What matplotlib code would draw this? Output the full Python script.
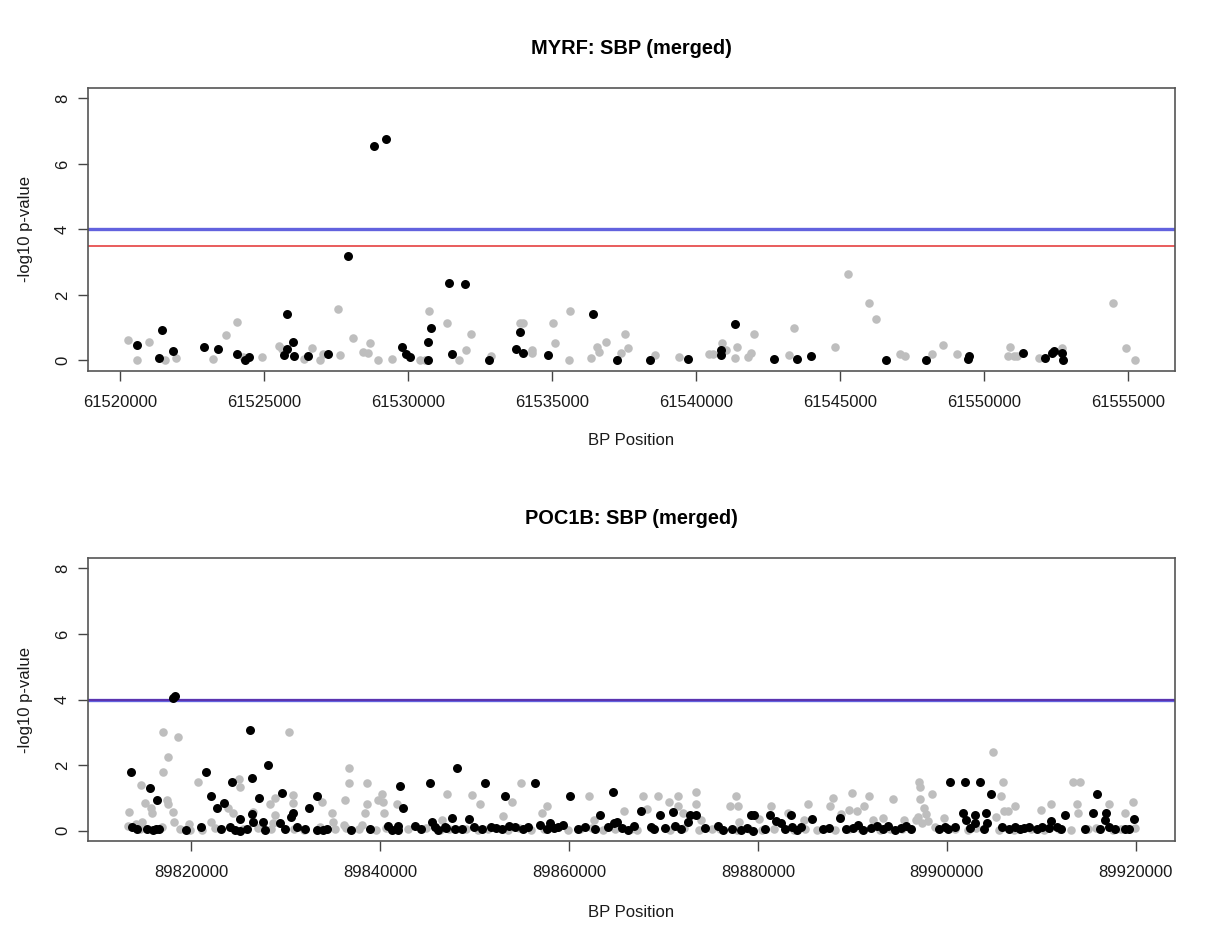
#!/usr/bin/env python3
"""Regional association plots (-log10 p) for MYRF and POC1B, SBP merged."""

import matplotlib

matplotlib.use("Agg")
import matplotlib.pyplot as plt
import numpy as np

plt.rcParams["font.family"] = ["Liberation Sans", "DejaVu Sans"]

# MYRF region: positions (bp) and -log10 p-values, split by colour group
MYRF_BLACK_POS = [
    61520590, 61521460, 61521360, 61521850, 61522920, 61523410, 61524070, 61524320,
    61524460, 61525680, 61525780, 61525790, 61526020, 61526040, 61526510, 61527210,
    61527900, 61528810, 61529230, 61529780, 61529920, 61530060, 61530690, 61530790,
    61530680, 61531420, 61531530, 61531980, 61532810, 61533750, 61533890, 61534000,
    61534870, 61536440, 61537240, 61538390, 61539740, 61540860, 61540870, 61541340,
    61542700, 61543500, 61543990, 61546600, 61548000, 61549460, 61549470, 61551370,
    61552140, 61552380, 61552420, 61552730, 61552740,
]
MYRF_BLACK_P = [
    0.46, 0.92, 0.08, 0.30, 0.40, 0.36, 0.20, 0.00,
    0.10, 0.18, 1.42, 0.36, 0.58, 0.13, 0.15, 0.20,
    3.20, 6.56, 6.75, 0.40, 0.20, 0.10, 0.58, 0.98,
    0.00, 2.38, 0.20, 2.35, 0.00, 0.36, 0.88, 0.22,
    0.18, 1.42, 0.00, 0.00, 0.04, 0.33, 0.18, 1.10,
    0.04, 0.04, 0.13, 0.00, 0.00, 0.04, 0.13, 0.22,
    0.08, 0.22, 0.28, 0.22, 0.03,
]
MYRF_GREY_POS = [
    61520280, 61520600, 61521010, 61521570, 61521950, 61523240, 61523690, 61524070,
    61524280, 61524940, 61525500, 61525610, 61526370, 61526650, 61526930, 61527030,
    61527560, 61527630, 61528080, 61528430, 61528600, 61528670, 61528950, 61529440,
    61530410, 61530590, 61530720, 61531350, 61531770, 61532010, 61532190, 61532880,
    61533890, 61534000, 61534310, 61534320, 61535040, 61535110, 61535630, 61535600,
    61536370, 61536570, 61536640, 61536890, 61537380, 61537550, 61537650, 61538590,
    61539400, 61540440, 61540580, 61540890, 61541030, 61541350, 61541410, 61541800,
    61541900, 61542010, 61543220, 61543400, 61544830, 61545280, 61546010, 61546250,
    61547090, 61547260, 61548200, 61548590, 61549080, 61550850, 61550920, 61551060,
    61551160, 61551930, 61552700, 61554470, 61554920, 61555240,
]
MYRF_GREY_P = [
    0.64, 0.00, 0.55, 0.00, 0.08, 0.06, 0.77, 1.18,
    0.12, 0.10, 0.45, 0.36, 0.06, 0.37, 0.00, 0.19,
    1.58, 0.18, 0.70, 0.25, 0.22, 0.52, 0.00, 0.06,
    0.00, 0.00, 1.50, 1.13, 0.00, 0.33, 0.80, 0.15,
    1.13, 1.13, 0.33, 0.22, 1.13, 0.52, 1.50, 0.00,
    0.08, 0.40, 0.25, 0.55, 0.22, 0.80, 0.37, 0.18,
    0.10, 0.19, 0.19, 0.52, 0.33, 0.08, 0.40, 0.12,
    0.22, 0.80, 0.18, 1.00, 0.40, 2.65, 1.75, 1.27,
    0.20, 0.13, 0.20, 0.48, 0.20, 0.15, 0.40, 0.15,
    0.15, 0.08, 0.37, 1.75, 0.37, 0.00,
]

# POC1B region
POC1B_BLACK_POS = [
    89813630, 89815650, 89816390, 89813650, 89815330, 89816280, 89818090, 89818300,
    89821490, 89822120, 89822660, 89823400, 89824250, 89825100, 89826160, 89826370,
    89827120, 89826400, 89826480, 89827540, 89828070, 89829350, 89829560, 89830510,
    89830730, 89831150, 89832430, 89833280, 89833300, 89833910, 89820960, 89824040,
    89825150, 89840820, 89841880, 89841900, 89842090, 89842410, 89843680, 89845280,
    89845490, 89845810, 89846870, 89847610, 89848140, 89847930, 89849420, 89851120,
    89853240, 89853670, 89856430, 89856960, 89858020, 89858870, 89859400, 89860040,
    89863220, 89864070, 89864600, 89864700, 89865030, 89866830, 89867580, 89868640,
    89869600, 89870980, 89871190, 89872570, 89872780, 89873420, 89875760, 89878200,
    89879260, 89879580, 89879480, 89881280, 89881910, 89882450, 89883510, 89883550,
    89884570, 89885740, 89888710, 89890620, 89892640, 89893810, 89895720, 89899760,
    89900820, 89900290, 89901880, 89903470, 89904640, 89901670, 89902940, 89904110,
    89901990, 89902960, 89904220, 89905810, 89907190, 89908680, 89910060, 89911010,
    89912500, 89915470, 89915900, 89916850, 89916750, 89917810, 89918870, 89919830,
    # dense run of near-zero markers
    89814200, 89815900, 89816600, 89819400, 89823100, 89824600, 89825900, 89827800,
    89829900, 89832000, 89834400, 89836900, 89838900, 89841200, 89844300, 89846100,
    89847000, 89848600, 89849900, 89850800, 89851700, 89852300, 89852900, 89854300,
    89855100, 89855600, 89857700, 89858400, 89860900, 89861700, 89862700, 89865600,
    89866200, 89869000, 89870200, 89871800, 89874400, 89876300, 89877300, 89878800,
    89880700, 89882900, 89884100, 89886900, 89887500, 89889300, 89890100, 89891100,
    89892000, 89893200, 89894500, 89895100, 89896200, 89899200, 89900100, 89902500,
    89903900, 89906600, 89907800, 89908200, 89909500, 89910800, 89911700, 89912100,
    89914600, 89916200, 89917200, 89919300,
]
POC1B_BLACK_P = [
    1.80, 1.31, 0.92, 0.10, 0.06, 0.06, 4.05, 4.10,
    1.80, 1.04, 0.70, 0.85, 1.47, 0.34, 3.08, 1.59,
    1.00, 0.49, 0.25, 0.25, 2.00, 0.22, 1.16, 0.40,
    0.52, 0.10, 0.70, 1.04, 0.03, 0.03, 0.10, 0.10,
    0.00, 0.15, 0.15, 0.03, 1.37, 0.70, 0.15, 1.44,
    0.25, 0.12, 0.12, 0.37, 1.92, 0.06, 0.34, 1.44,
    1.04, 0.15, 1.44, 0.18, 0.22, 0.12, 0.18, 1.04,
    0.46, 0.10, 1.19, 0.22, 0.25, 0.15, 0.61, 0.10,
    0.46, 0.58, 0.15, 0.25, 0.46, 0.46, 0.15, 0.03,
    0.46, 0.46, 0.00, 0.46, 0.28, 0.22, 0.46, 0.12,
    0.10, 0.34, 0.37, 0.18, 0.15, 0.15, 0.15, 0.10,
    0.10, 1.47, 1.47, 1.47, 1.13, 0.52, 0.46, 0.52,
    0.31, 0.22, 0.22, 0.10, 0.10, 0.12, 0.12, 0.28,
    0.46, 0.55, 1.13, 0.52, 0.31, 0.06, 0.06, 0.34,
    0.04, 0.02, 0.05, 0.03, 0.05, 0.02, 0.04, 0.03,
    0.05, 0.04, 0.06, 0.03, 0.05, 0.02, 0.05, 0.03,
    0.08, 0.05, 0.10, 0.06, 0.12, 0.08, 0.05, 0.10,
    0.06, 0.12, 0.04, 0.09, 0.06, 0.10, 0.05, 0.08,
    0.03, 0.05, 0.08, 0.04, 0.07, 0.03, 0.05, 0.09,
    0.05, 0.06, 0.03, 0.05, 0.08, 0.04, 0.07, 0.03,
    0.09, 0.06, 0.03, 0.08, 0.05, 0.04, 0.06, 0.09,
    0.05, 0.06, 0.04, 0.08, 0.05, 0.07, 0.10, 0.04,
    0.06, 0.05, 0.10, 0.05,
]
POC1B_GREY_POS = [
    89813420, 89814690, 89815120, 89815860, 89815750, 89817030, 89817560, 89817020,
    89817450, 89817560, 89818090, 89818200, 89818620, 89814160, 89814800, 89819790,
    89820640, 89822120, 89823820, 89824350, 89824990, 89825100, 89826480, 89828280,
    89828810, 89828820, 89828600, 89830300, 89830730, 89830740, 89833810, 89834870,
    89834970, 89836250, 89836670, 89836680, 89836140, 89838050, 89838590, 89838600,
    89838380, 89839750, 89840180, 89840280, 89840390, 89841770, 89847080, 89846550,
    89849740, 89850590, 89853030, 89853980, 89854940, 89857170, 89857700, 89862060,
    89862590, 89865770, 89867790, 89868220, 89869380, 89870550, 89871510, 89871520,
    89872040, 89873420, 89873430, 89873950, 89877030, 89877670, 89877880, 89877990,
    89880110, 89881380, 89883190, 89884890, 89885310, 89887970, 89887650, 89888820,
    89889990, 89889670, 89890520, 89891260, 89891790, 89892220, 89893280, 89894340,
    89895510, 89896780, 89896990, 89897100, 89897110, 89897210, 89897630, 89897840,
    89898380, 89899650, 89904850, 89905920, 89905700, 89906020, 89906450, 89905170,
    89907190, 89909950, 89911010, 89913350, 89914090, 89913780, 89913880, 89917170,
    89918870, 89919720,
    # near-zero markers
    89813300, 89814500, 89816900, 89818800, 89819800, 89821100, 89822500, 89825500,
    89827000, 89828400, 89830900, 89831900, 89833600, 89835200, 89836400, 89837700,
    89839500, 89840600, 89842900, 89844800, 89846300, 89847300, 89849100, 89850300,
    89851400, 89853500, 89854700, 89856000, 89857300, 89859900, 89861200, 89862400,
    89863600, 89864900, 89866500, 89867200, 89868900, 89870700, 89872200, 89873700,
    89875100, 89876000, 89877800, 89879000, 89880400, 89881700, 89883800, 89885000,
    89886300, 89888200, 89889600, 89890900, 89892900, 89894000, 89895300, 89897400,
    89898000, 89898800, 89900900, 89902200, 89903100, 89905500, 89907100, 89908900,
    89910300, 89911900, 89913100, 89914900, 89915800, 89917600, 89918400, 89919900,
]
POC1B_GREY_P = [
    0.58, 1.40, 0.85, 0.55, 0.70, 3.02, 2.26, 1.80,
    0.92, 0.82, 0.58, 0.25, 2.87, 0.20, 0.25, 0.20,
    1.47, 0.25, 0.70, 0.52, 1.56, 1.34, 0.58, 0.82,
    0.98, 0.46, 0.22, 3.02, 1.07, 0.85, 0.88, 0.52,
    0.25, 0.92, 1.92, 1.44, 0.18, 0.18, 1.44, 0.82,
    0.52, 0.92, 1.13, 0.88, 0.52, 0.82, 1.13, 0.31,
    1.10, 0.82, 0.43, 0.88, 1.44, 0.55, 0.76, 1.04,
    0.31, 0.61, 1.04, 0.67, 1.04, 0.88, 1.04, 0.76,
    0.52, 1.19, 0.82, 0.31, 0.76, 1.04, 0.76, 0.25,
    0.34, 0.76, 0.52, 0.31, 0.82, 1.00, 0.76, 0.49,
    1.16, 0.64, 0.61, 0.76, 1.04, 0.31, 0.37, 0.95,
    0.31, 0.31, 0.40, 1.47, 1.34, 0.95, 0.70, 0.49,
    1.13, 0.37, 2.41, 1.47, 1.04, 0.61, 0.61, 0.40,
    0.76, 0.64, 0.82, 1.47, 1.47, 0.82, 0.52, 0.82,
    0.52, 0.88,
    0.15, 0.06, 0.10, 0.04, 0.02, 0.03, 0.08, 0.05,
    0.09, 0.04, 0.06, 0.02, 0.10, 0.04, 0.08, 0.05,
    0.03, 0.09, 0.04, 0.07, 0.02, 0.05, 0.04, 0.02,
    0.05, 0.03, 0.07, 0.02, 0.05, 0.03, 0.04, 0.08,
    0.02, 0.05, 0.04, 0.02, 0.06, 0.03, 0.08, 0.02,
    0.04, 0.06, 0.02, 0.05, 0.03, 0.05, 0.02, 0.06,
    0.03, 0.02, 0.06, 0.04, 0.02, 0.05, 0.04, 0.22,
    0.30, 0.12, 0.05, 0.03, 0.07, 0.03, 0.02, 0.05,
    0.03, 0.06, 0.02, 0.04, 0.08, 0.03, 0.05, 0.07,
]

MYRF_XTICKS = [61520000, 61525000, 61530000, 61535000, 61540000, 61545000, 61550000, 61555000]
POC1B_XTICKS = [89820000, 89840000, 89860000, 89880000, 89900000, 89920000]
Y_TICKS = [0, 2, 4, 6, 8]

SUGGESTIVE_LINE = {"MYRF": 4.0, "POC1B": 4.0}
SIGNIF_LINE = {"MYRF": 3.5, "POC1B": 4.0}

GREY = "#BEBEBE"
TEXT = "#1a1a1a"


def draw_panel(fig, rect, gene, black_pos, black_p, grey_pos, grey_p, xticks, title_y, xlabel_y):
    ax = fig.add_axes(rect)
    ax.scatter(grey_pos, grey_p, s=38, color=GREY, linewidths=0, zorder=2)
    ax.scatter(black_pos, black_p, s=42, color="black", linewidths=0, zorder=3)

    ax.axhline(SIGNIF_LINE[gene], color="#e01818", alpha=0.7, linewidth=1.4, zorder=1)
    ax.axhline(SUGGESTIVE_LINE[gene], color="#2020d0", alpha=0.7, linewidth=2.4, zorder=1.5)

    # R-style 4% padding around the data range
    allx = np.concatenate([black_pos, grey_pos])
    span = allx.max() - allx.min()
    ax.set_xlim(allx.min() - 0.04 * span, allx.max() + 0.04 * span)
    ax.set_ylim(-0.32, 8.32)

    ax.set_xticks(xticks)
    ax.set_xticklabels([str(t) for t in xticks])
    ax.set_yticks(Y_TICKS)
    ax.tick_params(axis="both", direction="out", length=7, width=1.0, color="#444444",
                   labelsize=12, labelcolor=TEXT)
    ax.tick_params(axis="x", pad=10)
    ax.tick_params(axis="y", labelrotation=90, pad=6)
    for lab in ax.get_yticklabels():
        lab.set_va("center")
    for spine in ax.spines.values():
        spine.set_linewidth(1.2)
        spine.set_color("#555555")

    cx = rect[0] + rect[2] / 2
    fig.text(cx, title_y, f"{gene}: SBP (merged)", ha="center", va="center",
             fontsize=14.4, fontweight="bold", color="black")
    fig.text(cx, xlabel_y, "BP Position", ha="center", va="center", fontsize=12, color=TEXT)
    fig.text(0.021, rect[1] + rect[3] / 2, "-log10 p-value", ha="center", va="center",
             rotation=90, fontsize=12, color=TEXT)
    return ax


def main():
    fig = plt.figure(figsize=(12.2, 9.38), dpi=100)
    fig.patch.set_facecolor("white")

    draw_panel(fig, [0.0721, 0.6045, 0.891, 0.3017], "MYRF",
               MYRF_BLACK_POS, MYRF_BLACK_P, MYRF_GREY_POS, MYRF_GREY_P,
               MYRF_XTICKS, 0.9488, 0.5299)
    draw_panel(fig, [0.0721, 0.1034, 0.891, 0.3017], "POC1B",
               POC1B_BLACK_POS, POC1B_BLACK_P, POC1B_GREY_POS, POC1B_GREY_P,
               POC1B_XTICKS, 0.4467, 0.0277)

    fig.savefig("out.png", dpi=100, facecolor="white")
    plt.close(fig)


if __name__ == "__main__":
    main()
